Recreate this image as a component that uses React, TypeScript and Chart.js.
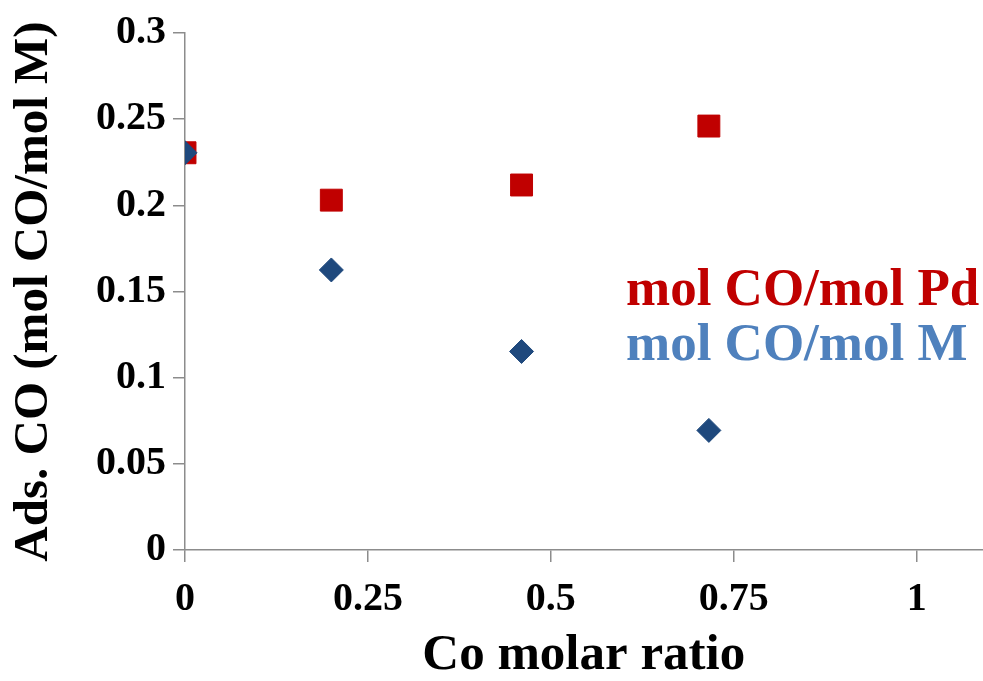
import React, { useEffect, useRef } from "react";
import { Chart, registerables } from "chart.js";

Chart.register(...registerables);

const coRatio = [0, 0.2, 0.46, 0.716];
const perPd = [0.2305, 0.203, 0.2118, 0.246];
const perM = [0.2305, 0.1625, 0.1152, 0.0694];
const seriesLabels = ["mol CO/mol Pd", "mol CO/mol M"];
const seriesColors = ["#C00000", "#1F497D"];
const legendColors = ["#C00000", "#4F81BD"];
const xTickLabels = ["0", "0.25", "0.5", "0.75", "1"];
const yTickLabels = ["0", "0.05", "0.1", "0.15", "0.2", "0.25", "0.3"];
const xTitle = "Co molar ratio";
const yTitle = "Ads. CO (mol CO/mol M)";

const FONT = "'Liberation Serif', 'Times New Roman', serif";
const AXIS = "#8C8C8C";

const textLegend = {
  id: "textLegend",
  afterDatasetsDraw(chart: any) {
    const ctx = chart.ctx;
    ctx.save();
    ctx.font = `bold 53px ${FONT}`;
    ctx.textAlign = "left";
    ctx.textBaseline = "alphabetic";
    const x = 626;
    const ys = [305, 360];
    seriesLabels.forEach((lab, i) => {
      ctx.fillStyle = legendColors[i];
      ctx.fillText(lab, x, ys[i]);
    });
    ctx.restore();
  },
};

export default function App() {
  const ref = useRef<HTMLCanvasElement>(null);
  useEffect(() => {
    if (!ref.current) return;
    const chart = new Chart(ref.current, {
      type: "scatter",
      data: {
        datasets: [
          {
            label: seriesLabels[1],
            data: coRatio.map((x, i) => ({ x, y: perM[i] })),
            pointStyle: "rectRot",
            pointRadius: 12,
            pointHoverRadius: 12,
            backgroundColor: seriesColors[1],
            borderColor: seriesColors[1],
            borderWidth: 1,
          },
          {
            label: seriesLabels[0],
            data: coRatio.map((x, i) => ({ x, y: perPd[i] })),
            pointStyle: "rect",
            pointRadius: 15.5,
            pointHoverRadius: 15.5,
            backgroundColor: seriesColors[0],
            borderColor: seriesColors[0],
            borderWidth: 1,
          },
        ],
      },
      options: {
        animation: false,
        responsive: false,
        devicePixelRatio: 1,
        layout: { padding: { top: 33, right: 0, bottom: 0, left: 0 } },
        plugins: { legend: { display: false }, tooltip: { enabled: false } },
        scales: {
          x: {
            type: "linear",
            min: 0,
            max: 1.09,
            afterFit: (s: any) => {
              s.height = 131;
            },
            ticks: {
              stepSize: 0.25,
              includeBounds: false,
              padding: 14,
              color: "#000",
              font: { family: FONT, size: 40, weight: "bold" },
              callback: (_v: any, i: number) => xTickLabels[i],
            },
            grid: {
              display: true,
              drawOnChartArea: false,
              drawTicks: true,
              tickLength: 12,
              color: AXIS,
              lineWidth: 1.5,
            },
            border: { color: AXIS, width: 1.5 },
            title: {
              display: true,
              text: xTitle,
              color: "#000",
              font: { family: FONT, size: 51, weight: "bold", lineHeight: 1 },
              padding: 0,
            },
          },
          y: {
            type: "linear",
            min: 0,
            max: 0.3,
            afterFit: (s: any) => {
              s.width = 185;
            },
            ticks: {
              stepSize: 0.05,
              padding: 7,
              color: "#000",
              font: { family: FONT, size: 40, weight: "bold" },
              callback: (_v: any, i: number) => yTickLabels[i],
            },
            grid: {
              display: true,
              drawOnChartArea: false,
              drawTicks: true,
              tickLength: 12,
              color: AXIS,
              lineWidth: 1.5,
            },
            border: { color: AXIS, width: 1.5 },
            title: {
              display: true,
              text: yTitle,
              color: "#000",
              font: { family: FONT, size: 49, weight: "bold", lineHeight: 1 },
              padding: 10,
            },
          },
        },
      },
      plugins: [textLegend],
    });
    return () => chart.destroy();
  }, []);
  return (
    <div
      style={{
        position: "absolute",
        left: 0,
        top: 0,
        width: 983,
        height: 681,
        overflow: "hidden",
        background: "#fff",
      }}
    >
      <canvas ref={ref} width={999} height={681} style={{ display: "block" }} />
    </div>
  );
}
